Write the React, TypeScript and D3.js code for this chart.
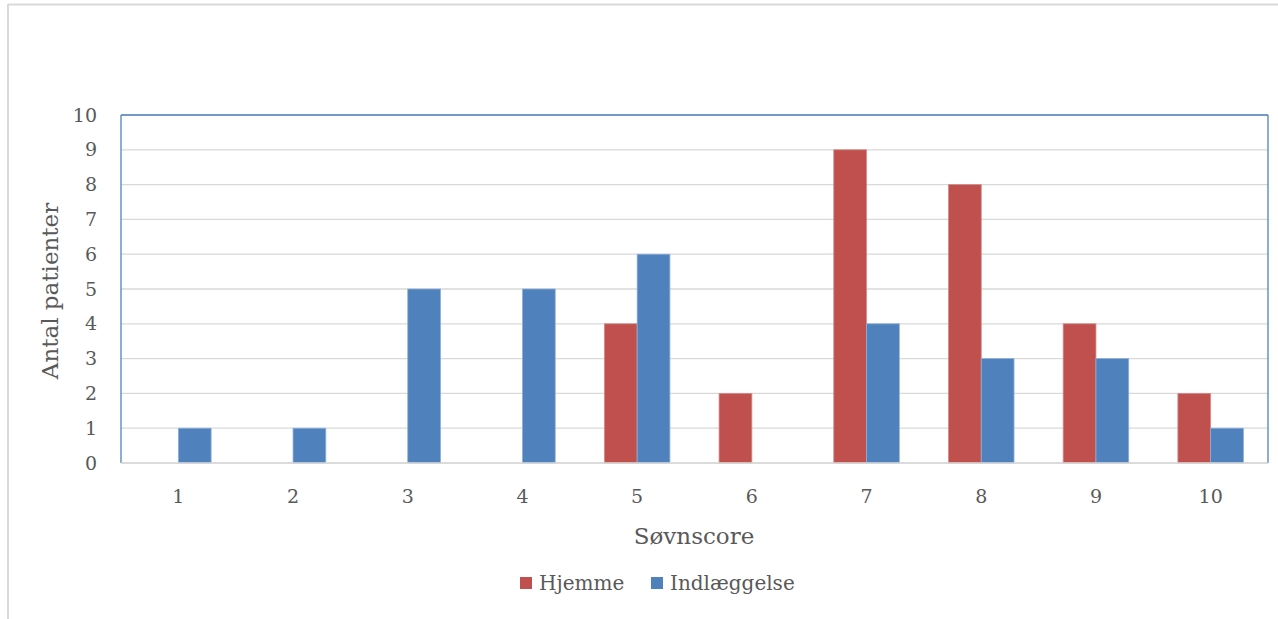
import React from "react";
import * as d3 from "d3";

const categories = ["1", "2", "3", "4", "5", "6", "7", "8", "9", "10"];
const hjemme = [0, 0, 0, 0, 4, 2, 9, 8, 4, 2];
const indlaeggelse = [1, 1, 5, 5, 6, 0, 4, 3, 3, 1];
const yTicks = [0, 1, 2, 3, 4, 5, 6, 7, 8, 9, 10];
const seriesNames = ["Hjemme", "Indlæggelse"];
const colors = ["#c0504d", "#4f81bd"];

export default function App() {
  const W = 1278, H = 619;
  const left = 121, right = 1268, top = 115, bottom = 463;
  const font = "'DejaVu Serif', serif";
  const x = d3.scaleBand().domain(categories).range([left, right]).paddingInner(0).paddingOuter(0);
  const y = d3.scaleLinear().domain([0, 10]).range([bottom, top]);
  const bw = x.bandwidth() / 3.5;
  const series = [hjemme, indlaeggelse];
  return (
    <svg width={W} height={H} style={{ position: "absolute", left: 0, top: 0, background: "#fff" }}>
      <rect x={0} y={0} width={W} height={H} fill="#fff" />
      <line x1={8} y1={4.5} x2={W} y2={4.5} stroke="#d9d9d9" strokeWidth={2} />
      <line x1={8} y1={4} x2={8} y2={H} stroke="#d9d9d9" strokeWidth={2} />
      {yTicks.map((t) => (
        <line key={t} x1={left} x2={right} y1={y(t)} y2={y(t)} stroke="#d9d9d9" strokeWidth={1.3} />
      ))}
      {series.map((s, si) =>
        s.map((v, i) =>
          v > 0 ? (
            <rect
              key={si + "-" + i}
              x={x(categories[i])! + x.bandwidth() / 2 + (si - 1) * bw}
              y={y(v)}
              width={bw}
              height={y(0) - y(v)}
              fill={colors[si]}
              stroke={si === 0 ? "#d38b89" : "#8fb0d8"}
              strokeWidth={0.8}
            />
          ) : null
        )
      )}
      <line x1={left} x2={left} y1={top} y2={bottom} stroke="#4f81bd" strokeWidth={1.3} />
      <line x1={left} x2={right} y1={top} y2={top} stroke="#4f81bd" strokeWidth={1.3} />
      <line x1={right} x2={right} y1={top} y2={bottom} stroke="#4f81bd" strokeWidth={1.3} />
      <line x1={left} x2={right} y1={bottom} y2={bottom} stroke="#d9d9d9" strokeWidth={1.3} />
      {yTicks.map((t) => (
        <text key={t} x={97} y={y(t)} dy="0.35em" textAnchor="end" fontFamily={font} fontSize={19} fill="#595959">
          {t}
        </text>
      ))}
      {categories.map((c) => (
        <text key={c} x={x(c)! + x.bandwidth() / 2} y={496} dy="0.35em" textAnchor="middle" fontFamily={font} fontSize={19} fill="#595959">
          {c}
        </text>
      ))}
      <text x={694} y={536} dy="0.35em" textAnchor="middle" fontFamily={font} fontSize={23} fill="#595959">
        Søvnscore
      </text>
      <text transform={`translate(50,${(top + bottom) / 2 + 2}) rotate(-90)`} dy="0.35em" textAnchor="middle" fontFamily={font} fontSize={23} fill="#595959">
        Antal patienter
      </text>
      {seriesNames.map((n, i) => {
        const lx = i === 0 ? 520 : 651;
        return (
          <g key={n}>
            <rect x={lx} y={577} width={12} height={12} fill={colors[i]} />
            <text x={lx + 19} y={583} dy="0.35em" fontFamily={font} fontSize={20} fill="#595959">
              {n}
            </text>
          </g>
        );
      })}
    </svg>
  );
}
